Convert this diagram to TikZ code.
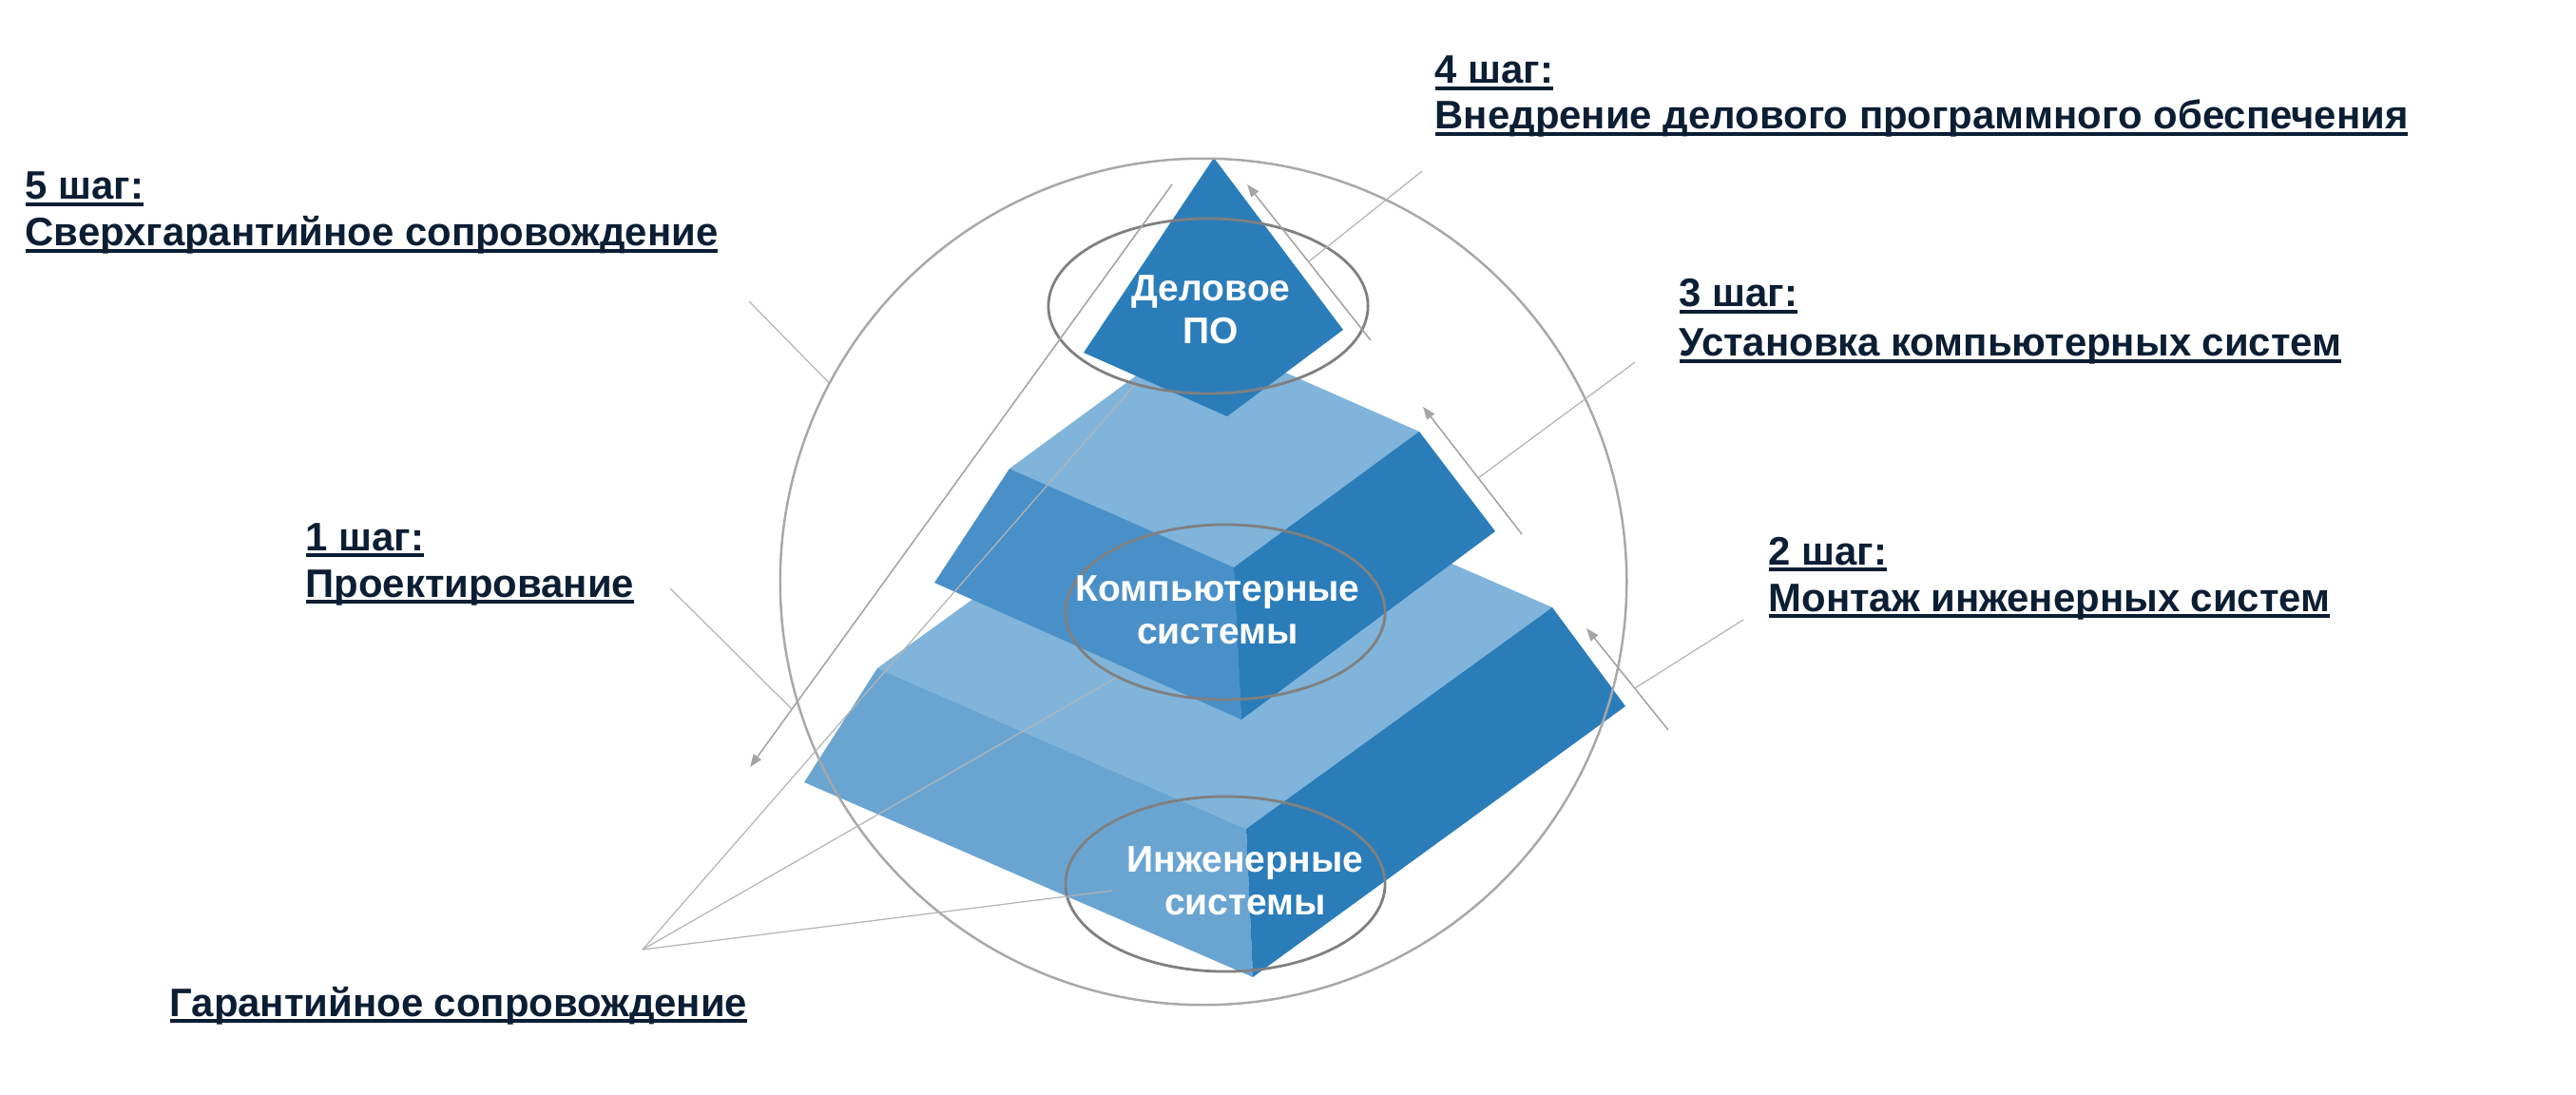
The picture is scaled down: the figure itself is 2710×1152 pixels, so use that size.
\documentclass[tikz,border=0pt]{standalone}
\usepackage{fontspec}
\setmainfont{Liberation Sans}
\usetikzlibrary{shapes.geometric,arrows.meta}
\definecolor{labelnavy}{RGB}{12,30,52}
\definecolor{topface}{RGB}{128,180,218}
\definecolor{darkface}{RGB}{43,125,186}
\definecolor{midleft}{RGB}{74,144,200}
\definecolor{lowleft}{RGB}{106,165,210}
\definecolor{ringgray}{RGB}{128,128,128}
\definecolor{circgray}{RGB}{168,168,168}
\definecolor{ptrgray}{RGB}{180,180,180}
\definecolor{argray}{RGB}{165,165,165}
\newcommand{\undl}[1]{\sbox0{#1}\rlap{\rule[-2.1pt]{\wd0}{1.2pt}}\usebox0}
\tikzset{
  lbl/.style={anchor=base west, inner sep=0pt, text=labelnavy,
    font=\fontsize{11.9}{14}\selectfont\bfseries},
  inlbl/.style={align=center, inner sep=0pt, text=white,
    font=\fontsize{11.1}{12.8}\selectfont\bfseries},
  ring/.style={ellipse, draw=ringgray, line width=0.8pt, inner sep=0pt,
    minimum width=3.36cm, minimum height=1.84cm},
  ptr/.style={draw=ptrgray, line width=0.35pt},
  stepar/.style={draw=argray, line width=0.45pt, -{Triangle[length=3.8pt,width=2.8pt]}}
}
\begin{document}
\begin{tikzpicture}[x=0.01cm,y=-0.01cm]
\useasboundingbox (0,0) rectangle (2710,1152);
% lower block
\fill[topface] (923,703) -- (1245,470) -- (1633,639) -- (1311,872) -- cycle;
\fill[lowleft] (923,703) -- (1311,872) -- (1318,1028) -- (846,823) -- cycle;
\fill[darkface] (1311,872) -- (1633,639) -- (1710,743) -- (1318,1028) -- cycle;
% middle block
\fill[topface] (1062,493) -- (1257,350) -- (1493,454) -- (1298,597) -- cycle;
\fill[midleft] (1062,493) -- (1298,597) -- (1306,757) -- (983,613) -- cycle;
\fill[darkface] (1298,597) -- (1493,454) -- (1573,559) -- (1306,757) -- cycle;
% top
\fill[darkface] (1277,166) -- (1413,347) -- (1291,438) -- (1140,371) -- cycle;
\node[ring] (ellD) at (1271,322){};
\node[ring] (ellK) at (1289,644){};
\node[ring] (ellI) at (1289,930){};
\node[circle, draw=circgray, line width=0.7pt, minimum size=8.9cm, inner sep=0pt] (outer) at (1266,612){};
\node[inlbl] (txtD) at (1274,326){Деловое\\ПО};
\node[inlbl] (txtK) at (1281,642){Компьютерные\\системы};
\node[inlbl] (txtI) at (1310,927){Инженерные\\системы};
% arrows along the edges
\coordinate (a4s) at (1442,358);
\coordinate (a4e) at (1312,194);
\coordinate (a3s) at (1601,562);
\coordinate (a3e) at (1497,428);
\coordinate (a2s) at (1755,768);
\coordinate (a2e) at (1669,661);
\coordinate (a1s) at (1233,194);
\coordinate (a1e) at (789,807);
\draw[stepar] (a4s) -- (a4e);
\draw[stepar] (a3s) -- (a3e);
\draw[stepar] (a2s) -- (a2e);
\draw[stepar] (a1s) -- (a1e);
% labels
\node[lbl] (s5a) at (26,210){\undl{5 шаг:}};
\node[lbl] (s5b) at (26,259){\undl{Сверхгарантийное сопровождение}};
\node[lbl] (s4a) at (1509,88){\undl{4 шаг:}};
\node[lbl] (s4b) at (1509,136){\undl{Внедрение делового программного обеспечения}};
\node[lbl] (s3a) at (1766,323){\undl{3 шаг:}};
\node[lbl] (s3b) at (1766,375){\undl{Установка компьютерных систем}};
\node[lbl] (s2a) at (1860,594){\undl{2 шаг:}};
\node[lbl] (s2b) at (1860,643){\undl{Монтаж инженерных систем}};
\node[lbl] (s1a) at (321,579){\undl{1 шаг:}};
\node[lbl] (s1b) at (321,628){\undl{Проектирование}};
\node[lbl] (sw) at (178,1069){\undl{Гарантийное сопровождение}};
% pointers
\coordinate (p5) at (788,317);
\coordinate (p4) at (1496,180);
\coordinate (p4e) at (1377,275);
\coordinate (p3) at (1720,381);
\coordinate (p3e) at (1555,503);
\coordinate (p2) at (1834,652);
\coordinate (p2e) at (1720,724);
\coordinate (p1) at (705,619);
\coordinate (p1e) at (833,746);
\coordinate (pw) at (676,999);
\coordinate (pwe) at (1170,937);
\draw[ptr] (p5) -- (outer.152);
\draw[ptr] (p4) -- (p4e);
\draw[ptr] (p3) -- (p3e);
\draw[ptr] (p2) -- (p2e);
\draw[ptr] (p1) -- (p1e);
\draw[ptr] (pw) -- (ellD.227);
\draw[ptr] (pw) -- (ellK.211);
\draw[ptr] (pw) -- (pwe);
\end{tikzpicture}
\end{document}
